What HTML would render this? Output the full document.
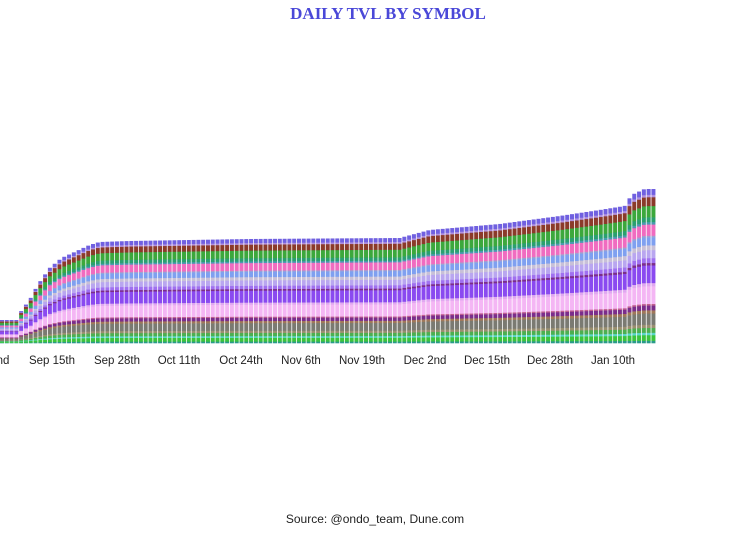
<!DOCTYPE html>
<html><head><meta charset="utf-8"><style>
body{margin:0;width:750px;height:536px;background:#fff;overflow:hidden;position:relative;font-family:"Liberation Sans",sans-serif}
#t{position:absolute;top:4px;left:0;width:776px;text-align:center;font-family:"Liberation Serif",serif;font-weight:bold;font-size:17px;color:#4a48d8}
#s{position:absolute;top:512px;left:0;width:750px;text-align:center;font-size:12px;color:#222}
svg{position:absolute;left:0;top:0}
</style></head><body>
<div id="t">DAILY TVL BY SYMBOL</div>
<svg id="c" width="750" height="536" xmlns="http://www.w3.org/2000/svg"></svg>
<div id="s">Source: @ondo_team, Dune.com</div>
<script>
(function(){
var L=[["#2a9a8a",.015],["#3cc43c",.035],["#5ad6c8",.015],["#4caf50",.03],["#9a8f70",.02],["#7a7a72",.07],["#a0785a",.02],["#7b2d8b",.03],["#c06090",.01],["#f4b6f4",.11],["#e0a8f0",.02],["#8a4af0",.11],["#7b2d8b",.015],["#a070f0",.03],["#b9a6f0",.05],["#c8c0d8",.03],["#7fa0f0",.05],["#a0a0d0",.01],["#f06cc0",.07],["#4a9ab0",.015],["#2aa070",.03],["#3ca83c",.07],["#8b3a2a",.055],["#b090e0",.015],["#7060e0",.035]];
var tot=0;L.forEach(function(l){tot+=l[1]});
var pts=[[0,320],[18,320],[22,310],[30,300],[38,285],[50,268],[62,258],[75,252],[90,245],[100,242],[130,241],[250,239],[400,238],[430,230],[500,224],[560,216],[600,210],[625,206],[632,195],[645,189],[660,189]];
function topY(x){for(var i=1;i<pts.length;i++){if(x<=pts[i][0]){var a=pts[i-1],b=pts[i];return a[1]+(b[1]-a[1])*(x-a[0])/(b[0]-a[0]);}}return 189;}
var NS="http://www.w3.org/2000/svg",svg=document.getElementById('c'),base=343,w=4.79;
function el(n,a,t){var e=document.createElementNS(NS,n);for(var k in a)e.setAttribute(k,a[k]);if(t)e.textContent=t;svg.appendChild(e);}
for(var x=0;x<656;x+=w){var h=base-topY(x+w/2),y=base;
for(var j=0;j<L.length;j++){var hh=h*L[j][1]/tot;y-=hh;el('rect',{x:x.toFixed(2),y:y.toFixed(2),width:(w-0.8).toFixed(2),height:(hh+0.3).toFixed(2),fill:L[j][0]});}}
var labs=[["nd",3],["Sep 15th",52],["Sep 28th",117],["Oct 11th",179],["Oct 24th",241],["Nov 6th",301],["Nov 19th",362],["Dec 2nd",425],["Dec 15th",487],["Dec 28th",550],["Jan 10th",613]];
labs.forEach(function(l){el('text',{x:l[1],y:364,'font-size':'11.5',fill:'#222','text-anchor':'middle','font-family':'Liberation Sans,sans-serif'},l[0]);});
})();
</script>
</body></html>
